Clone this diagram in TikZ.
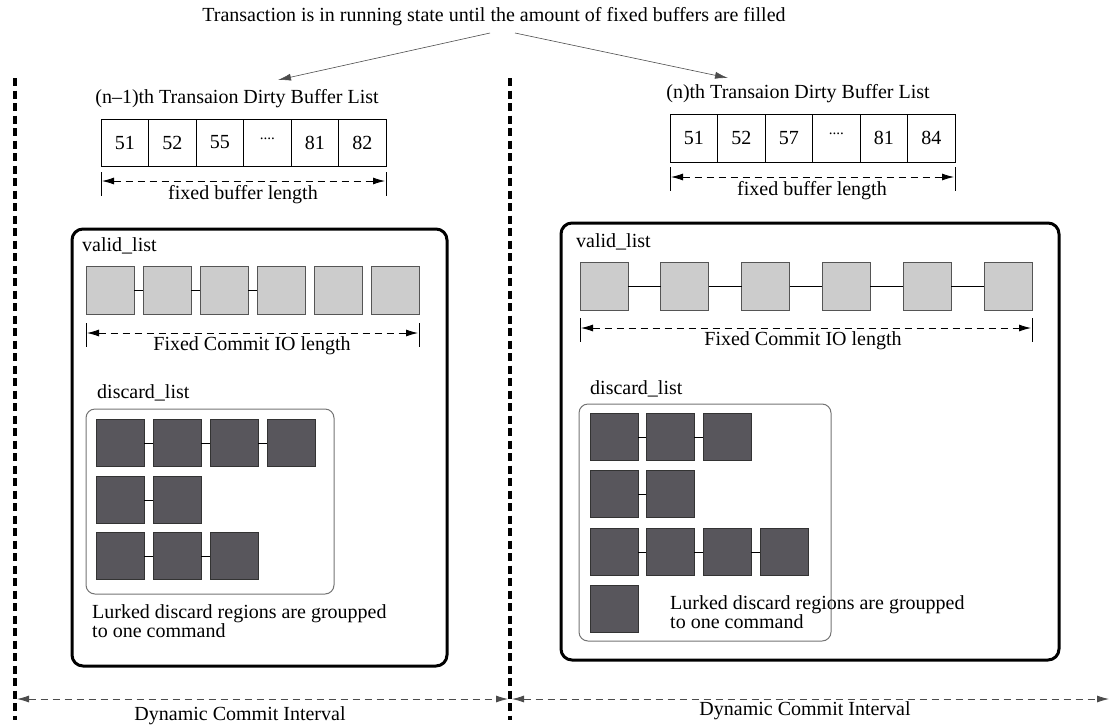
\documentclass[tikz,border=0pt]{standalone}
\usepackage{fontspec}
\setmainfont{Liberation Serif}
\usetikzlibrary{arrows.meta}
\definecolor{darkbox}{HTML}{58565C}
\definecolor{lightbox}{HTML}{CCCCCC}
\definecolor{dimgray}{HTML}{555555}
\newcommand{\dotdots}{\raisebox{0.42em}{\fontsize{15}{15}\selectfont ....}}
\tikzset{
  txt/.style={inner sep=0pt, font=\fontsize{20}{18}\selectfont},
  cell/.style={draw, line width=0.9pt, minimum width=47.5pt, minimum height=47pt, inner sep=0pt, outer sep=0pt, font=\fontsize{20}{18}\selectfont},
  vbox/.style={draw=dimgray, fill=lightbox, line width=1pt, minimum width=48pt, minimum height=48pt, inner sep=0pt, outer sep=0pt},
  dbox/.style={draw=black!80, fill=darkbox, line width=1pt, minimum width=48pt, minimum height=47pt, inner sep=0pt, outer sep=0pt},
  link/.style={line width=0.8pt},
  tick/.style={line width=0.8pt},
  dimarrow/.style={line width=0.8pt, dash pattern=on 7pt off 5pt, {Latex[length=12pt,width=7pt]}-{Latex[length=12pt,width=7pt]}},
  sep/.style={line width=4pt, dash pattern=on 8pt off 4.5pt},
  bigbox/.style={line width=3pt, rounded corners=11pt},
  inbox/.style={line width=1pt, draw=black!55, rounded corners=9pt},
  callout/.style={line width=0.6pt, draw=black!70, -{Latex[length=13pt,width=7pt]}},
  interval/.style={line width=0.8pt, draw=black!70, dash pattern=on 7pt off 5pt, {Latex[length=12pt,width=7pt]}-{Latex[length=12pt,width=7pt]}}
}
\begin{document}
\begin{tikzpicture}[x=1pt,y=-1pt]
\useasboundingbox (0,0) rectangle (1110,726);

% top text and callouts
\node[txt] (top) at (494,17) {Transaction is in running state until the amount of fixed buffers are filled};
\coordinate (cl) at (490,33);
\coordinate (cr) at (515,33);
\coordinate (al) at (278,80);
\coordinate (ar) at (728,78);
\draw[callout] (cl) -- (al);
\draw[callout] (cr) -- (ar);

% separators
\coordinate (s1t) at (15,78); \coordinate (s1b) at (15,720);
\coordinate (s2t) at (510,78); \coordinate (s2b) at (510,720);
\draw[sep] (s1t) -- (s1b);
\draw[sep] (s2t) -- (s2b);

% ---------- left: buffer list
\node[txt] (ltitle) at (237,99) {(n\textendash1)th Transaion Dirty Buffer List};
\foreach \v [count=\i] in {51,52,55,\dotdots,81,82}
  \node[cell] (L\i) at ({101+47.5*(\i-0.5)},142.5) {\v};
\coordinate (ldl) at (101,172); \coordinate (ldr) at (386,172);
\draw[tick] (ldl) -- ++(0,24);
\draw[tick] (ldr) -- ++(0,24);
\coordinate (lal) at (102,181); \coordinate (lar) at (385,181);
\draw[dimarrow] (lal) -- (lar);
\node[txt] (lfbl) at (243,195) {fixed buffer length};

% ---------- right: buffer list
\node[txt] (rtitle) at (798,94) {(n)th Transaion Dirty Buffer List};
\foreach \v [count=\i] in {51,52,57,\dotdots,81,84}
  \node[cell, minimum height=48pt] (R\i) at ({670+47.5*(\i-0.5)},138) {\v};
\coordinate (rdl) at (670,167); \coordinate (rdr) at (955,167);
\draw[tick] (rdl) -- ++(0,24);
\draw[tick] (rdr) -- ++(0,24);
\coordinate (ral) at (671,177); \coordinate (rar) at (954,177);
\draw[dimarrow] (ral) -- (rar);
\node[txt] (rfbl) at (812,191) {fixed buffer length};

% ---------- left big box
\draw[bigbox] (72,229) rectangle (447,666);
\node[txt, anchor=west] (lvl) at (82,246) {valid\_list};
\foreach \i in {1,...,6}
  \node[vbox] (LV\i) at ({110+57*(\i-1)},290) {};
\draw[link] (LV1.east) -- (LV2.west);
\draw[link] (LV2.east) -- (LV3.west);
\draw[link] (LV3.east) -- (LV4.west);
\coordinate (lvdl) at (86,323); \coordinate (lvdr) at (419,323);
\draw[tick] (lvdl) -- ++(0,24);
\draw[tick] (lvdr) -- ++(0,24);
\coordinate (lval) at (87,333); \coordinate (lvar) at (418,333);
\draw[dimarrow] (lval) -- (lvar);
\node[txt] (lfci) at (252,346) {Fixed Commit IO length};

\node[txt, anchor=west] (ldlt) at (97,393) {discard\_list};
\draw[inbox] (86,409) rectangle (334,594);
\node[dbox] (LA1) at (120,443) {};
\node[dbox] (LA2) at (177,443) {};
\node[dbox] (LA3) at (234,443) {};
\node[dbox] (LA4) at (291,443) {};
\node[dbox] (LB1) at (120,500) {};
\node[dbox] (LB2) at (177,500) {};
\node[dbox] (LC1) at (120,556) {};
\node[dbox] (LC2) at (177,556) {};
\node[dbox] (LC3) at (234,556) {};
\draw[link] (LA1.east) -- (LA2.west);
\draw[link] (LA2.east) -- (LA3.west);
\draw[link] (LA3.east) -- (LA4.west);
\draw[link] (LB1.east) -- (LB2.west);
\draw[link] (LC1.east) -- (LC2.west);
\draw[link] (LC2.east) -- (LC3.west);
\node[txt, anchor=west, align=left] (llurk) at (92,621) {Lurked discard regions are groupped\\to one command};

% ---------- right big box
\draw[bigbox] (561,223) rectangle (1059,660);
\node[txt, anchor=west] (rvl) at (576,242) {valid\_list};
\foreach \i in {1,...,6}
  \node[vbox] (RV\i) at ({604+80.8*(\i-1)},286) {};
\foreach \i/\j in {1/2,2/3,3/4,4/5,5/6}
  \draw[link] (RV\i.east) -- (RV\j.west);
\coordinate (rvdl) at (580,318); \coordinate (rvdr) at (1032,318);
\draw[tick] (rvdl) -- ++(0,24);
\draw[tick] (rvdr) -- ++(0,24);
\coordinate (rval) at (581,328); \coordinate (rvar) at (1031,328);
\draw[dimarrow] (rval) -- (rvar);
\node[txt] (rfci) at (803,341) {Fixed Commit IO length};

\node[txt, anchor=west] (rdlt) at (590,389) {discard\_list};
\draw[inbox] (579,404) rectangle (831,641);
\node[dbox] (RA1) at (614,437) {};
\node[dbox] (RA2) at (670,437) {};
\node[dbox] (RA3) at (727,437) {};
\node[dbox] (RB1) at (614,494) {};
\node[dbox] (RB2) at (670,494) {};
\node[dbox] (RC1) at (614,552) {};
\node[dbox] (RC2) at (670,552) {};
\node[dbox] (RC3) at (727,552) {};
\node[dbox] (RC4) at (784,552) {};
\node[dbox] (RD1) at (614,609) {};
\draw[link] (RA1.east) -- (RA2.west);
\draw[link] (RA2.east) -- (RA3.west);
\draw[link] (RB1.east) -- (RB2.west);
\draw[link] (RC1.east) -- (RC2.west);
\draw[link] (RC2.east) -- (RC3.west);
\draw[link] (RC3.east) -- (RC4.west);
\node[txt, anchor=west, align=left] (rlurk) at (670,612) {Lurked discard regions are groupped\\to one command};

% ---------- bottom intervals
\coordinate (b1l) at (17,699); \coordinate (b1r) at (508,699);
\coordinate (b2l) at (512,699); \coordinate (b2r) at (1109,699);
\draw[interval] (b1l) -- (b1r);
\draw[interval] (b2l) -- (b2r);
\node[txt] (ldci) at (240,716) {Dynamic Commit Interval};
\node[txt] (rdci) at (805,711) {Dynamic Commit Interval};
\end{tikzpicture}
\end{document}
